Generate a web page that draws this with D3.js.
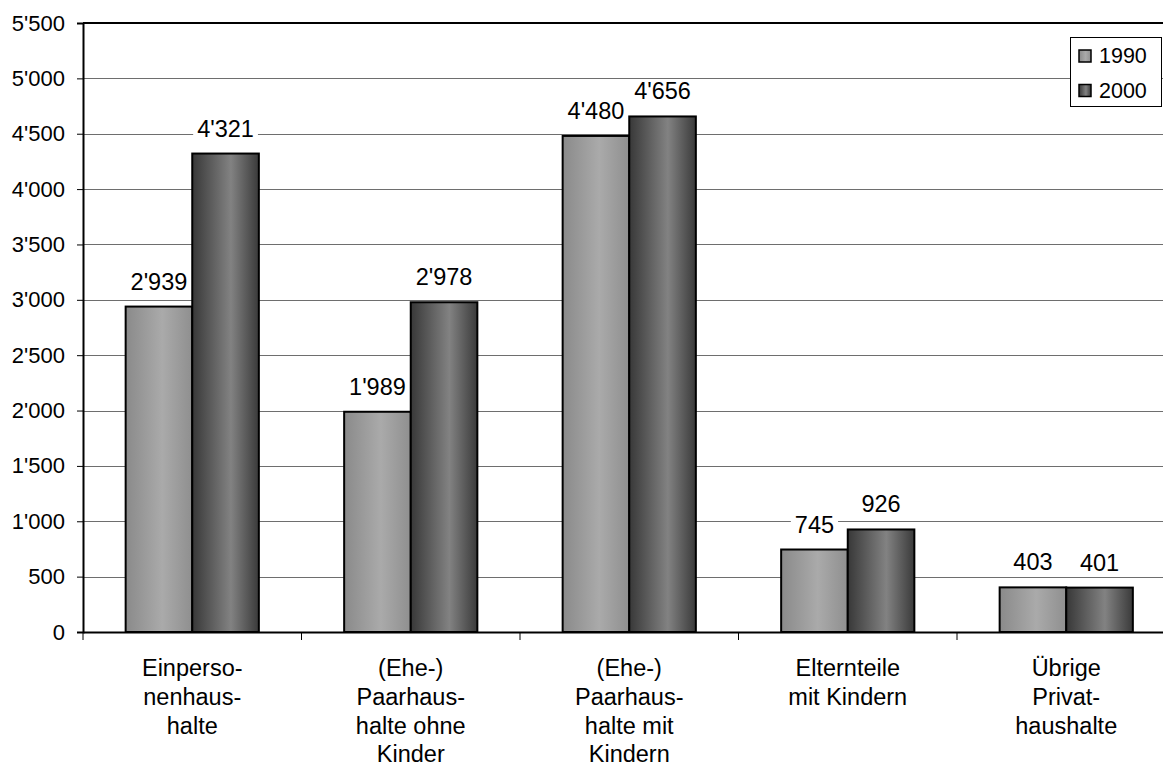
<!DOCTYPE html>
<html><head><meta charset="utf-8">
<script src="https://cdn.jsdelivr.net/npm/d3@7"></script>
<style>
html,body{margin:0;padding:0;background:#fff;}
svg{display:block;}
text{font-family:"Liberation Sans",Arial,sans-serif;fill:#000;}
</style></head><body>
<svg id="chart" width="1163" height="767"></svg>
<script>
const categories = [
  ["Einperso-","nenhaus-","halte"],
  ["(Ehe-)","Paarhaus-","halte ohne","Kinder"],
  ["(Ehe-)","Paarhaus-","halte mit","Kindern"],
  ["Elternteile","mit Kindern"],
  ["Übrige","Privat-","haushalte"]
];
const seriesNames = ["1990","2000"];
const values1990 = [2939, 1989, 4480, 745, 403];
const values2000 = [4321, 2978, 4656, 926, 401];
const yTicks = [0,500,1000,1500,2000,2500,3000,3500,4000,4500,5000,5500];

(function(){
const svg = d3.select("#chart");
const W = 1163;
const mLeft = 83, mTop = 23, mBottom = 632;
const bandW = 218.5;
const catIdx = categories.map((c,i)=>i);

const x = d3.scaleBand().domain(catIdx).range([mLeft, mLeft + bandW*categories.length]).padding(0);
const y = d3.scaleLinear().domain([0,5500]).range([mBottom, mTop]);
const barW = 66.6;
const xs = d3.scaleBand().domain(seriesNames).range([0, barW*2]).padding(0);
const off = (x.bandwidth() - barW*2)/2;

const loc = d3.formatLocale({decimal:".", thousands:"'", grouping:[3], currency:["",""]});
const fmt = loc.format(",d");

const defs = svg.append("defs");
function grad(id, stops){
  const g = defs.append("linearGradient").attr("id",id).attr("x1","0%").attr("x2","100%").attr("y1","0%").attr("y2","0%");
  stops.forEach(s=>g.append("stop").attr("offset",s[0]).attr("stop-color",s[1]));
}
grad("g1990",[["0%","#8a8a8a"],["55%","#aaaaaa"],["100%","#8f8f8f"]]);
grad("g2000",[["0%","#383838"],["58%","#828282"],["100%","#3a3a3a"]]);
const fills = {"1990":"url(#g1990)","2000":"url(#g2000)"};

svg.append("g").selectAll("line").data(yTicks.filter(t=>t>0 && t<5500)).join("line")
  .attr("x1",mLeft).attr("x2",W).attr("y1",d=>Math.round(y(d))+0.5).attr("y2",d=>Math.round(y(d))+0.5)
  .attr("stroke","#6e6e6e").attr("stroke-width",1);
svg.append("line").attr("x1",mLeft).attr("x2",W).attr("y1",y(5500)).attr("y2",y(5500))
  .attr("stroke","#000").attr("stroke-width",2);

const yAxis = d3.axisLeft(y).tickValues(yTicks).tickFormat(fmt).tickSize(6).tickPadding(12);
const ya = svg.append("g").attr("transform",`translate(${mLeft},0)`).call(yAxis);
ya.select(".domain").attr("stroke","#000").attr("stroke-width",2);
ya.selectAll(".tick line").attr("stroke","#000").attr("stroke-width",1);
ya.selectAll(".tick text").attr("font-size","22px").attr("font-family","Liberation Sans, Arial, sans-serif").attr("fill","#000");

const data = [];
catIdx.forEach(i=>{
  data.push({c:i,s:"1990",v:values1990[i]});
  data.push({c:i,s:"2000",v:values2000[i]});
});
const cx = d=>x(d.c)+off+xs(d.s)+xs.bandwidth()/2;
const labelY = d=>y(d.v)-17;

const bg = svg.append("g");
const barsG = svg.append("g");
const txtG = svg.append("g");

barsG.selectAll("rect").data(data).join("rect")
  .attr("x",d=>x(d.c)+off+xs(d.s))
  .attr("width",xs.bandwidth())
  .attr("y",d=>y(d.v))
  .attr("height",d=>y(0)-y(d.v))
  .attr("fill",d=>fills[d.s])
  .attr("stroke","#000").attr("stroke-width",2);

const texts = txtG.selectAll("text").data(data).join("text")
  .attr("text-anchor","middle").attr("font-size","23.5px")
  .attr("x",cx).attr("y",labelY).text(d=>fmt(d.v));
texts.each(function(d){
  const w = this.getComputedTextLength();
  bg.append("rect").attr("x",cx(d)-w/2-4).attr("y",labelY(d)-20).attr("width",w+8).attr("height",26).attr("fill","#fff");
});

const xAxis = d3.axisBottom(x).tickSize(0).tickFormat("");
const xa = svg.append("g").attr("transform",`translate(0,${mBottom})`).call(xAxis);
xa.select(".domain").attr("stroke","#000").attr("stroke-width",2);
svg.append("g").selectAll("line").data(catIdx).join("line")
  .attr("x1",d=>x(d)).attr("x2",d=>x(d)).attr("y1",mBottom).attr("y2",mBottom+8)
  .attr("stroke","#000").attr("stroke-width",1);

const cl = svg.append("g").selectAll("text").data(catIdx).join("text")
  .attr("text-anchor","middle").attr("font-size","23.5px")
  .attr("x",d=>x(d)+x.bandwidth()/2).attr("y",676);
cl.selectAll("tspan").data(d=>categories[d].map(t=>({t,cx:x(d)+x.bandwidth()/2}))).join("tspan")
  .attr("x",d=>d.cx).attr("dy",(d,i)=>i===0?0:28.8).text(d=>d.t);

const lg = svg.append("g");
lg.append("rect").attr("x",1070.5).attr("y",37.5).attr("width",91).attr("height",69)
  .attr("fill","#fff").attr("stroke","#000").attr("stroke-width",1);
seriesNames.forEach((s,i)=>{
  const yy = 50 + i*34.5;
  lg.append("rect").attr("x",1079).attr("y",yy).attr("width",12).attr("height",12)
    .attr("fill",fills[s]).attr("stroke","#000").attr("stroke-width",1.5);
  lg.append("text").attr("x",1099).attr("y",yy+13).attr("font-size","21.5px").text(s);
});
})();
</script>
</body></html>
